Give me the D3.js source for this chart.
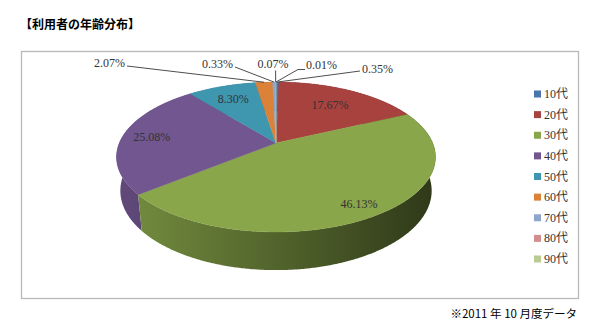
<!DOCTYPE html>
<html>
<head>
<meta charset="utf-8">
<script src="https://cdn.jsdelivr.net/npm/d3@7"></script>
<style>
  body { margin: 0; background: #fff; }
  svg { display: block; }
</style>
</head>
<body>
<svg id="chart" width="600" height="335"></svg>
<script>
// data
let ageGroups = ["10代", "20代", "30代", "40代", "50代", "60代", "70代", "80代", "90代"];
let shares = [0.35, 17.67, 46.13, 25.08, 8.30, 2.07, 0.33, 0.07, 0.01];
let sliceColors = ["#4a75ad", "#a8423f", "#89a64a", "#71568f", "#3f97af",
                   "#dc8238", "#8fa6cc", "#d08f8e", "#b7cb93"];

let svg = d3.select("#chart");
let textColor = "#333";
let serif = "'Liberation Serif', 'Noto Sans CJK JP', serif";
let gothic = "'Noto Sans CJK JP', sans-serif";

// frame + title + note
svg.append("rect")
  .attr("x", 21.5).attr("y", 51.5)
  .attr("width", 557).attr("height", 247)
  .attr("fill", "none")
  .attr("stroke", "#b8b8b8")
  .attr("stroke-width", 1.3);

svg.append("text")
  .attr("x", 20).attr("y", 28.5)
  .text("【利用者の年齢分布】")
  .style("font-family", gothic)
  .style("font-weight", "bold")
  .style("font-size", "12px")
  .attr("fill", "#000");

svg.append("text")
  .attr("x", 577).attr("y", 318)
  .attr("text-anchor", "end")
  .text("※2011 年 10 月度データ")
  .style("font-family", gothic)
  .style("font-size", "11.5px")
  .attr("fill", "#000");

// 3d pie projection (perspective, tilted disc)
let cx = 276, cy = 143;
let phi = 27.5 * Math.PI / 180;
let k = 0.1867;
let D = Math.cos(phi) / k;
let scalePx = 156.7;
let F = scalePx * D;
let depth = 0.245;

function project(a, r, y) {
  let x = r * Math.sin(a);
  let z = -r * Math.cos(a);
  let u = y * Math.cos(phi) - z * Math.sin(phi);
  let w = y * Math.sin(phi) + z * Math.cos(phi);
  let d = D - w;
  return [cx + F * x / d, cy - F * u / d];
}

let arcs = d3.pie().sort(null).value(d => d)(shares);
let step = Math.PI / 360;

function arcAngles(s) {
  let n = Math.max(2, Math.ceil((s.endAngle - s.startAngle) / step) + 1);
  return d3.range(n).map(i => s.startAngle + (s.endAngle - s.startAngle) * i / (n - 1));
}

function scaleColor(c, f) {
  let rgb = d3.rgb(c);
  return d3.rgb(rgb.r * f, rgb.g * f, rgb.b * f).formatHex();
}

// side shading: lit from the left, dark on the right
let defs = svg.append("defs");
let xLeft = cx - scalePx * 1.02, xRight = cx + scalePx * 1.02;
sliceColors.forEach((c, i) => {
  let g = defs.append("linearGradient")
    .attr("id", "wall" + i)
    .attr("gradientUnits", "userSpaceOnUse")
    .attr("x1", xLeft).attr("x2", xRight)
    .attr("y1", 0).attr("y2", 0);
  g.append("stop").attr("offset", "0%").attr("stop-color", scaleColor(c, 0.86));
  g.append("stop").attr("offset", "50%").attr("stop-color", scaleColor(c, 0.6));
  g.append("stop").attr("offset", "100%").attr("stop-color", scaleColor(c, 0.34));
});

let line = d3.line();

// outer walls, far slices first
let walls = arcs.map((s, i) => {
  let angs = arcAngles(s);
  let top = angs.map(a => project(a, 1, 0));
  let bottom = angs.slice().reverse().map(a => project(a, 1, -depth));
  return { i: i, pts: top.concat(bottom), key: -Math.cos((s.startAngle + s.endAngle) / 2) };
}).sort((p, q) => p.key - q.key);

svg.append("g").selectAll("path")
  .data(walls)
  .enter()
  .append("path")
  .attr("d", d => line(d.pts) + "Z")
  .attr("fill", d => "url(#wall" + d.i + ")");

// top faces
svg.append("g").selectAll("path")
  .data(arcs)
  .enter()
  .append("path")
  .attr("d", s => line([[cx, cy]].concat(arcAngles(s).map(a => project(a, 1, 0)))) + "Z")
  .attr("fill", (s, i) => sliceColors[i])
  .attr("stroke", (s, i) => sliceColors[i])
  .attr("stroke-width", 0.4);

let fmt = v => d3.format(".2f")(v) + "%";

// labels inside the big slices
let innerRadius = [null, 0.7, 0.86, 0.81, 0.76, null, null, null, null];
arcs.forEach((s, i) => {
  if (innerRadius[i] == null) return;
  let p = project((s.startAngle + s.endAngle) / 2, innerRadius[i], 0);
  svg.append("text")
    .attr("x", p[0]).attr("y", p[1])
    .attr("dy", "0.35em")
    .attr("text-anchor", "middle")
    .text(fmt(shares[i]))
    .style("font-family", serif)
    .style("font-size", "12px")
    .attr("fill", textColor);
});

// outside labels with leader lines
let outerLabels = {
  "10代": { tx: 362, ty: 73, anchor: "start", from: [[360, 71]] },
  "60代": { tx: 125, ty: 67, anchor: "end", from: [[127, 66]] },
  "70代": { tx: 233, ty: 68, anchor: "end", from: [[235, 67]] },
  "80代": { tx: 273, ty: 67.5, anchor: "middle", from: "vertical" },
  "90代": { tx: 306, ty: 69, anchor: "start", from: [[305, 69.5], [298, 69.5]] }
};
arcs.forEach((s, i) => {
  let lab = outerLabels[ageGroups[i]];
  if (!lab) return;
  let p = project((s.startAngle + s.endAngle) / 2, 1, 0);
  let pts = lab.from == "vertical" ? [[p[0], 70.5]] : lab.from.slice();
  pts.push(p);
  svg.append("path")
    .attr("d", line(pts))
    .attr("fill", "none")
    .attr("stroke", "#3a3a3a")
    .attr("stroke-width", 0.9);
  svg.append("text")
    .attr("x", lab.tx).attr("y", lab.ty)
    .attr("text-anchor", lab.anchor)
    .text(fmt(shares[i]))
    .style("font-family", serif)
    .style("font-size", "12px")
    .attr("fill", textColor);
});

// legend
let legendY = d3.scalePoint().domain(ageGroups).range([94, 259]);
let legend = svg.append("g").selectAll("g")
  .data(ageGroups)
  .enter()
  .append("g")
  .attr("transform", d => "translate(534," + legendY(d) + ")");
legend.append("rect")
  .attr("x", 0).attr("y", -3.5)
  .attr("width", 7).attr("height", 7)
  .attr("fill", (d, i) => sliceColors[i]);
legend.append("text")
  .attr("x", 10).attr("y", 4)
  .text(d => d)
  .style("font-family", serif)
  .style("font-size", "12px")
  .attr("fill", textColor);
</script>
</body>
</html>
